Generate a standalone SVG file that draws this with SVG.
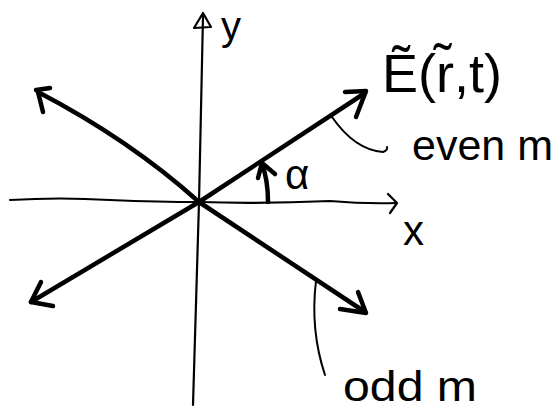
<svg xmlns="http://www.w3.org/2000/svg" width="559" height="411" viewBox="0 0 559 411">
<style>
.axis{fill:none;stroke:#000;stroke-width:2.2;stroke-linecap:round;stroke-linejoin:round}
.vec{fill:none;stroke:#000;stroke-width:4.5;stroke-linecap:round;stroke-linejoin:round}
.lead{fill:none;stroke:#000;stroke-width:2;stroke-linecap:round}
.lbl{font-family:"Liberation Sans","DejaVu Sans",sans-serif;fill:#000}
</style>
<rect width="559" height="411" fill="#fff"/>
<g id="connectors">
  <path class="axis" d="M10,200 Q60,197 110,200 Q160,202 199,202 Q260,204 330,201 Q365,204 396,203"/>
  <path class="axis" d="M388,194 L397,203 L390,213"/>
  <path class="axis" d="M193,405 Q196,300 199,202 Q201,110 203,16"/>
  <path class="axis" d="M194,28 L203,13 L211,27 Z"/>
  <path class="vec" d="M199,202 L365,93"/>
  <path class="vec" d="M345,92 L366,91 L356,117"/>
  <path class="vec" d="M199,202 Q130,140 38,92"/>
  <path class="vec" d="M38,92 L43,112 M36,90 L50,88"/>
  <path class="vec" d="M199,202 L31,302"/>
  <path class="vec" d="M31,302 L41,282 M31,302 L53,306"/>
  <path class="vec" d="M199,202 L365,312"/>
  <path class="vec" d="M340,309 L366,313 L358,292"/>
  <path class="vec" d="M268,202 Q268,180 262,164"/>
  <path class="vec" d="M258,178 L262,163 L275,174"/>
  <path class="lead" d="M332,117 Q355,150 383,152 Q388,150 387,147"/>
  <path class="lead" d="M316,281 Q310,330 325,375"/>
</g>
<g id="label-y"><text class="lbl" x="221" y="40" font-size="40">y</text></g>
<g id="label-x"><text class="lbl" x="403" y="245" font-size="42">x</text></g>
<g id="label-alpha"><text class="lbl" x="285" y="189" font-size="42">α</text></g>
<g id="label-E"><text class="lbl" x="382" y="92" font-size="54" textLength="120" lengthAdjust="spacingAndGlyphs">Ẽ(r̃,t)</text></g>
<g id="label-even"><text class="lbl" x="412" y="160" font-size="42" textLength="141" lengthAdjust="spacingAndGlyphs">even m</text></g>
<g id="label-odd"><text class="lbl" x="343" y="401" font-size="42" textLength="134" lengthAdjust="spacingAndGlyphs">odd m</text></g>
</svg>
